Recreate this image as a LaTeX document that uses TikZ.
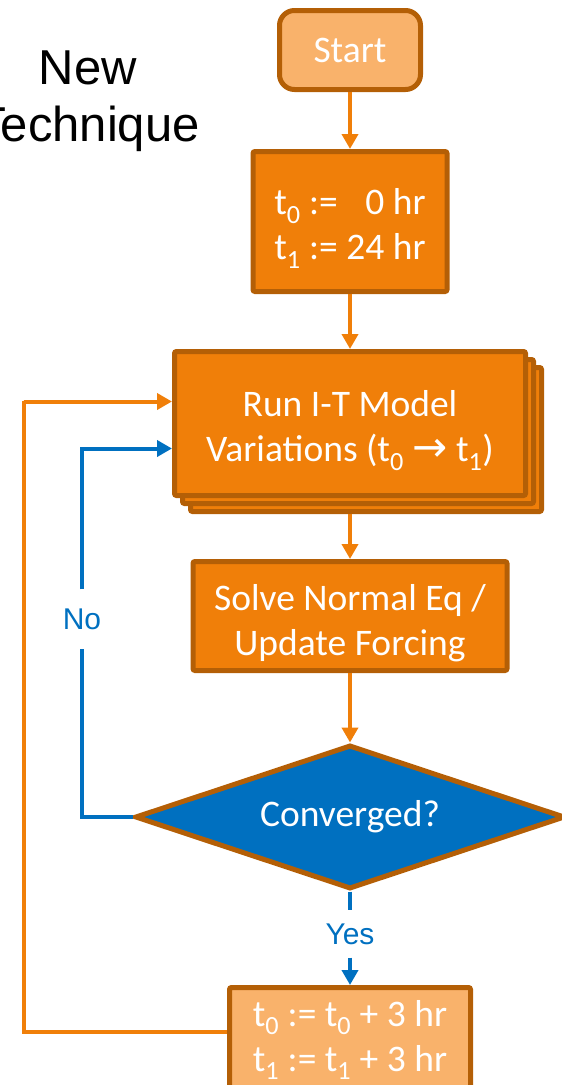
\documentclass[tikz,border=0pt]{standalone}
\usepackage{fontspec}
\setmainfont{Carlito}
\newfontfamily\arialfont{Liberation Sans}
\newfontfamily\arrowfont{DejaVu Sans}
\usepackage{tikz}
\usetikzlibrary{arrows.meta, positioning, shapes.geometric, shadows}

\definecolor{boxorange}{HTML}{F07F09}
\definecolor{boxlight}{HTML}{F9B26B}
\definecolor{boxedge}{HTML}{B45F06}
\definecolor{flowblue}{HTML}{0070C0}

\newcommand{\toppad}{\rule{0pt}{40pt}}

\begin{document}
\begin{tikzpicture}[x=1pt, y=-1pt, node distance=200pt, on grid,
  font=\fontsize{37.5}{45}\selectfont]
\useasboundingbox (0,0) rectangle (562,1085);
\clip (0,0) rectangle (562,1085);

	\tikzset{procbox/.style={rectangle, draw=boxedge, line width=5pt, fill=boxorange,
		text=white, align=center, inner sep=0pt, rounded corners=2pt}}
	\tikzset{lightbox/.style={procbox, fill=boxlight}}
	\tikzset{decbox/.style={diamond, draw=boxedge, line width=5pt, fill=flowblue,
		text=white, inner sep=0pt, aspect=3}}
	\tikzset{flowline/.style={draw=boxorange, line width=4pt,
		-{Triangle[width=16pt,length=15pt]}}}
	\tikzset{answerline/.style={draw=flowblue, line width=4pt}}
	\tikzset{answer/.style={text=flowblue, font=\arialfont\fontsize{30}{36}\selectfont}}

\node[align=center, font=\arialfont\fontsize{49}{57}\selectfont]
	(title) at (88,101) {New\\Technique};

\node[lightbox, rounded corners=15pt, minimum width=141pt, minimum height=79pt]
	(start) at (350,50) {Start};
\node[procbox, minimum width=194pt, minimum height=140pt]
	(init) [below=171.5pt of start] {\toppad t\textsubscript{0} := \phantom{2}0 hr\\t\textsubscript{1} := 24 hr};
\node[procbox, minimum width=351pt, minimum height=144pt,
	double copy shadow={shadow xshift=8pt, shadow yshift=-8pt}]
	(run) [below=202pt of init] {\toppad Run I-T Model\\Variations (t\textsubscript{0} {\arrowfont\fontsize{42}{45}\selectfont →} t\textsubscript{1})};
\node[procbox, minimum width=314pt, minimum height=109pt]
	(solve) [below=192.5pt of run] {\toppad Solve Normal Eq /\\Update Forcing};
\node[decbox, minimum width=430pt, minimum height=144pt]
	(conv) [below=201pt of solve] {Converged?};
\node[lightbox, minimum width=241pt, minimum height=105pt]
	(shift) [below=223pt of conv] {t\textsubscript{0} := t\textsubscript{0} + 3 hr\\t\textsubscript{1} := t\textsubscript{1} + 3 hr};

\node[answer, inner xsep=2pt, inner ysep=19pt] (no) at (82,619) {No};
\node[answer, inner xsep=2pt, inner ysep=13pt] (yes) at (350,934) {Yes};
\coordinate (back) at (24,401);

\path
	(start) edge [flowline] (init)
	(init) edge [flowline] (run)
	([yshift=-16pt]run.south) edge [flowline] (solve)
	(solve) edge [flowline] (conv);

\draw[answerline] (conv.west) -| (no.south);
\draw[answerline, -{Triangle[width=16pt,length=15pt]}] (no.north) |- ([yshift=-25pt]run.west);
\draw[answerline] (conv.south) -- (yes.north);
\draw[answerline, -{Triangle[width=16pt,length=15pt]}] (yes.south) -- (shift.north);
\draw[flowline] ([yshift=8pt]shift.west) -| (back) |- ([yshift=22pt]run.west);

\end{tikzpicture}
\end{document}
